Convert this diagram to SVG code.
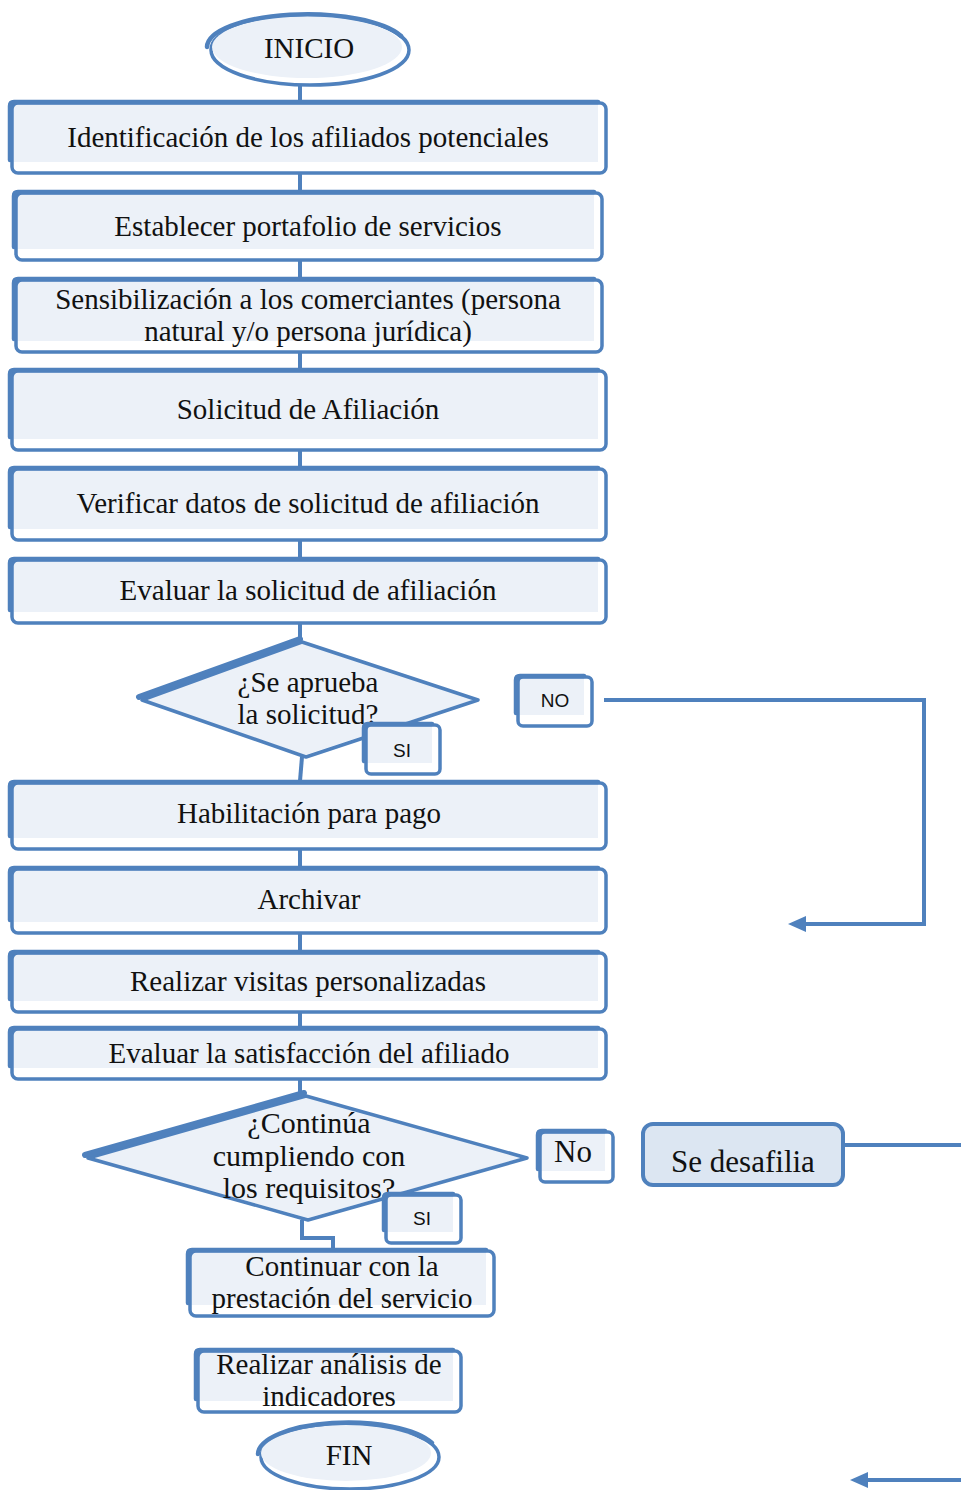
<svg xmlns="http://www.w3.org/2000/svg" width="961" height="1490" viewBox="0 0 961 1490">
<style>
.f{fill:#ECF1F8;stroke:none}
.b{fill:none;stroke:#4F81BD;stroke-width:3.5;stroke-linejoin:round}
.l{fill:none;stroke:#4F81BD;stroke-width:4.5;stroke-linecap:round;stroke-linejoin:round}
.c{fill:none;stroke:#4F81BD;stroke-width:4}
.t{font-family:"Liberation Serif","Times New Roman",serif;font-size:29px;fill:#111;text-anchor:middle}
.s{font-family:"Liberation Sans",Arial,sans-serif;font-size:19px;fill:#111;text-anchor:middle}
</style>
<defs>
<marker id="ah" viewBox="0 0 18 16" markerWidth="18" markerHeight="16" markerUnits="userSpaceOnUse" refX="3" refY="8" orient="auto">
<path d="M0 0 L18 8 L0 16 z" fill="#4F81BD"/>
</marker>
</defs>
<rect width="961" height="1490" fill="#fff"/>

<g id="connectors">
<path class="c" d="M300 86 V102"/>
<path class="c" d="M300 173 V191"/>
<path class="c" d="M300 260 V278"/>
<path class="c" d="M300 352 V369"/>
<path class="c" d="M300 450 V467"/>
<path class="c" d="M300 540 V558"/>
<path class="c" d="M300 623 V641"/>
<path class="c" d="M302 757 L300 781"/>
<path class="c" d="M300 849 V867"/>
<path class="c" d="M300 933 V951"/>
<path class="c" d="M300 1012 V1027"/>
<path class="c" d="M300 1079 V1095"/>
<path class="c" d="M302 1220 V1238 H333 V1249"/>
<path class="c" d="M604 700 H924 V924 H803" marker-end="url(#ah)"/>
<path class="c" d="M845 1145 H961"/>
<path class="c" d="M961 1480 H865" marker-end="url(#ah)"/>
</g>

<g id="inicio">
<ellipse cx="310" cy="50" rx="99" ry="35" fill="#fff" stroke="#4F81BD" stroke-width="3.5"/>
<ellipse class="f" cx="307" cy="47" rx="95" ry="31"/>
<path class="l" d="M207 47 A100 33 0 0 1 401 36"/>
<text class="t" x="309" y="58">INICIO</text>
</g>

<g id="n1">
<rect class="f" x="10" y="104" width="588" height="58"/>
<rect class="b" x="12" y="103" width="594" height="70" rx="6"/>
<path class="l" d="M10 160 V106 Q10 102 14 102 H598"/>
<text class="t" x="308" y="147">Identificación de los afiliados potenciales</text>
</g>

<g id="n2">
<rect class="f" x="14" y="194" width="580" height="55"/>
<rect class="b" x="16" y="193" width="586" height="67" rx="6"/>
<path class="l" d="M14 247 V196 Q14 192 18 192 H594"/>
<text class="t" x="308" y="236">Establecer portafolio de servicios</text>
</g>

<g id="n3">
<rect class="f" x="14" y="281" width="580" height="60"/>
<rect class="b" x="16" y="280" width="586" height="72" rx="6"/>
<path class="l" d="M14 339 V283 Q14 279 18 279 H594"/>
<text class="t" x="308" y="309">Sensibilización a los comerciantes (persona</text>
<text class="t" x="308" y="341">natural y/o persona jurídica)</text>
</g>

<g id="n4">
<rect class="f" x="10" y="372" width="588" height="67"/>
<rect class="b" x="12" y="371" width="594" height="79" rx="6"/>
<path class="l" d="M10 437 V374 Q10 370 14 370 H598"/>
<text class="t" x="308" y="419">Solicitud de Afiliación</text>
</g>

<g id="n5">
<rect class="f" x="10" y="470" width="588" height="59"/>
<rect class="b" x="12" y="469" width="594" height="71" rx="6"/>
<path class="l" d="M10 527 V472 Q10 468 14 468 H598"/>
<text class="t" x="308" y="513">Verificar datos de solicitud de afiliación</text>
</g>

<g id="n6">
<rect class="f" x="10" y="561" width="588" height="51"/>
<rect class="b" x="12" y="560" width="594" height="63" rx="6"/>
<path class="l" d="M10 610 V563 Q10 559 14 559 H598"/>
<text class="t" x="308" y="600">Evaluar la solicitud de afiliación</text>
</g>

<g id="d1">
<polygon class="f" points="142,699 302,642 476,699 305,755"/>
<polygon class="b" points="142,700 302,642 478,700 306,757"/>
<path class="l" d="M139 697 L300 639" style="stroke-width:6"/>
<text class="t" x="308" y="692">¿Se aprueba</text>
<text class="t" x="308" y="724">la solicitud?</text>
</g>

<g id="si1">
<rect class="f" x="364" y="726" width="68" height="37"/>
<rect class="b" x="366" y="725" width="74" height="49" rx="5"/>
<path class="l" d="M364 761 V728 Q364 724 368 724 H432"/>
<text class="s" x="402" y="757">SI</text>
</g>

<g id="no1">
<rect class="f" x="516" y="678" width="68" height="37"/>
<rect class="b" x="518" y="677" width="74" height="49" rx="5"/>
<path class="l" d="M516 713 V680 Q516 676 520 676 H584"/>
<text class="s" x="555" y="707">NO</text>
</g>

<g id="n7">
<rect class="f" x="10" y="784" width="588" height="54"/>
<rect class="b" x="12" y="783" width="594" height="66" rx="6"/>
<path class="l" d="M10 836 V786 Q10 782 14 782 H598"/>
<text class="t" x="309" y="823">Habilitación para pago</text>
</g>

<g id="n8">
<rect class="f" x="10" y="870" width="588" height="52"/>
<rect class="b" x="12" y="869" width="594" height="64" rx="6"/>
<path class="l" d="M10 920 V872 Q10 868 14 868 H598"/>
<text class="t" x="309" y="909">Archivar</text>
</g>

<g id="n9">
<rect class="f" x="10" y="954" width="588" height="47"/>
<rect class="b" x="12" y="953" width="594" height="59" rx="6"/>
<path class="l" d="M10 999 V956 Q10 952 14 952 H598"/>
<text class="t" x="308" y="991">Realizar visitas personalizadas</text>
</g>

<g id="n10">
<rect class="f" x="10" y="1030" width="588" height="38"/>
<rect class="b" x="12" y="1029" width="594" height="50" rx="6"/>
<path class="l" d="M10 1066 V1032 Q10 1028 14 1028 H598"/>
<text class="t" x="309" y="1063">Evaluar la satisfacción del afiliado</text>
</g>

<g id="d2">
<polygon class="f" points="88,1157 306,1096 525,1157 308,1218"/>
<polygon class="b" points="88,1158 306,1096 527,1158 308,1220"/>
<path class="l" d="M85 1155 L304 1093" style="stroke-width:6"/>
<text class="t" x="309" y="1133" style="font-size:30px">¿Continúa</text>
<text class="t" x="309" y="1166" style="font-size:30px">cumpliendo con</text>
<text class="t" x="309" y="1198" style="font-size:30px">los requisitos?</text>
</g>

<g id="no2">
<rect class="f" x="538" y="1133" width="67" height="38"/>
<rect class="b" x="540" y="1132" width="73" height="50" rx="5"/>
<path class="l" d="M538 1169 V1135 Q538 1131 542 1131 H605"/>
<text class="t" x="573" y="1162" style="font-size:31px">No</text>
</g>

<g id="desafilia">
<rect x="643" y="1124" width="200" height="61" rx="10" fill="#DCE6F2" stroke="#4F81BD" stroke-width="4"/>
<text class="t" x="743" y="1172" style="font-size:31px">Se desafilia</text>
</g>

<g id="si2">
<rect class="f" x="384" y="1196" width="69" height="36"/>
<rect class="b" x="386" y="1195" width="75" height="48" rx="5"/>
<path class="l" d="M384 1230 V1198 Q384 1194 388 1194 H453"/>
<text class="s" x="422" y="1225">SI</text>
</g>

<g id="n11">
<rect class="f" x="188" y="1252" width="298" height="53"/>
<rect class="b" x="190" y="1251" width="304" height="65" rx="6"/>
<path class="l" d="M188 1303 V1254 Q188 1250 192 1250 H486"/>
<text class="t" x="342" y="1276">Continuar con la</text>
<text class="t" x="342" y="1308">prestación del servicio</text>
</g>

<g id="n12">
<rect class="f" x="196" y="1352" width="257" height="49"/>
<rect class="b" x="198" y="1351" width="263" height="61" rx="6"/>
<path class="l" d="M196 1399 V1354 Q196 1350 200 1350 H453"/>
<text class="t" x="329" y="1374">Realizar análisis de</text>
<text class="t" x="329" y="1406">indicadores</text>
</g>

<g id="fin">
<ellipse cx="350" cy="1457" rx="89" ry="32" fill="#fff" stroke="#4F81BD" stroke-width="3.5"/>
<ellipse class="f" cx="346" cy="1453" rx="85" ry="28"/>
<path class="l" d="M258 1454 A90 32 0 0 1 432 1443"/>
<text class="t" x="349" y="1465">FIN</text>
</g>
</svg>
